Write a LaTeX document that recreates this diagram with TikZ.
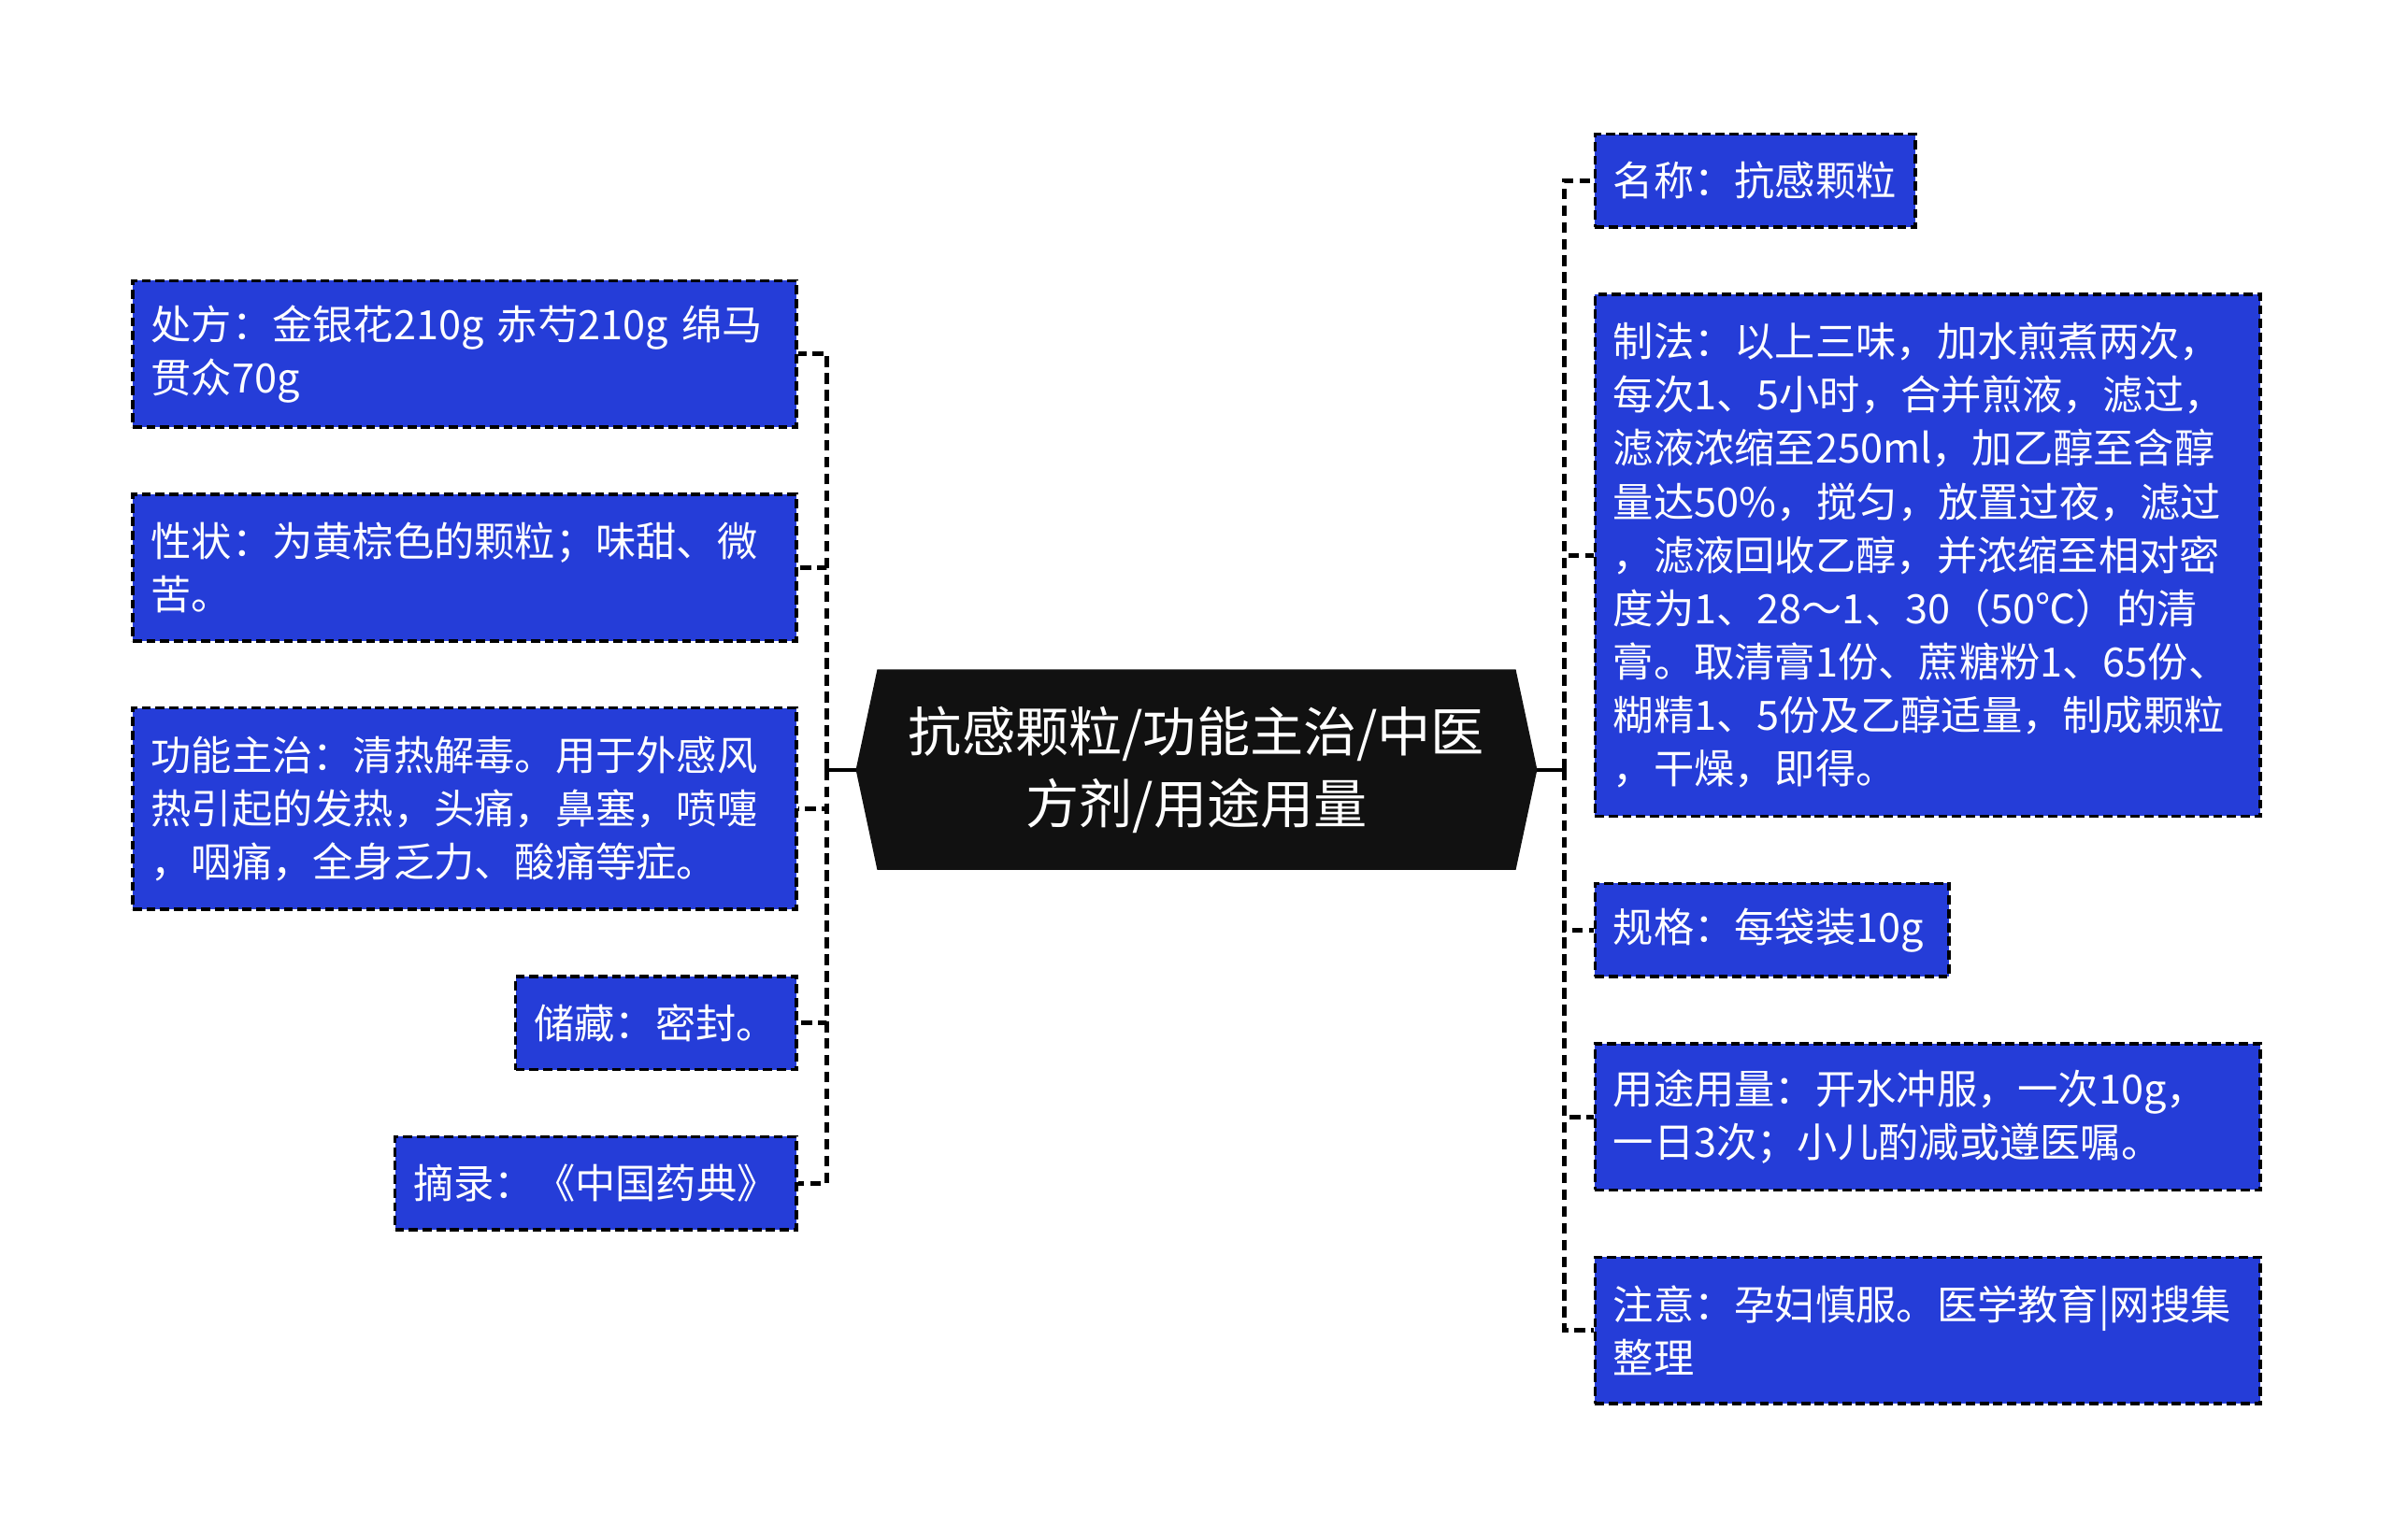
\documentclass[tikz,border=0pt]{standalone}
\usepackage{fontspec}
\setmainfont{Noto Sans CJK SC}
\usetikzlibrary{calc}
\definecolor{leafblue}{RGB}{37,61,216}
\definecolor{rootblack}{RGB}{17,17,17}
\tikzstyle{leaf} = [draw=black,fill=leafblue,text=white,line width=2.2pt,dash pattern=on 6pt off 3pt,inner xsep=12pt,inner ysep=0pt,align=left,font=\fontsize{26.5}{35}\selectfont]
\tikzstyle{rootnode} = [text=white,align=center,minimum width=418pt,minimum height=131pt,font=\fontsize{35}{47}\selectfont]
\tikzstyle{link} = [draw=black,line width=3pt,dash pattern=on 7pt off 4pt]
\tikzstyle{rootlink} = [draw=black,line width=2.4pt]
\pgfdeclarelayer{background}
\pgfsetlayers{background,main}

\begin{document}
\begin{tikzpicture}[x=1pt,y=-1pt]
\useasboundingbox (0,0) rectangle (1568,1009);

\node[rootnode] (root) at (784,504.5) {抗感颗粒/功能主治/中医\\方剂/用途用量};
\coordinate (rootW) at ($(root.west)+(-14,0)$);
\coordinate (rootE) at ($(root.east)+(14,0)$);
\coordinate (jl) at (542,504.5);
\coordinate (jr) at (1025,504.5);

% left side
\node[leaf,anchor=east,text width=411pt,minimum height=96pt]  (chufang)  at (523,232)   {处方：金银花210g 赤芍210g 绵马\\贯众70g};
\node[leaf,anchor=east,text width=411pt,minimum height=96pt]  (xingzhuang) at (523,372) {性状：为黄棕色的颗粒；味甜、微\\苦。};
\node[leaf,anchor=east,text width=411pt,minimum height=132pt] (gongneng) at (523,530)   {功能主治：清热解毒。用于外感风\\热引起的发热，头痛，鼻塞，喷嚏\\，咽痛，全身乏力、酸痛等症。};
\node[leaf,anchor=east,text width=160pt,minimum height=61pt]  (chucang)  at (523,670.5) {储藏：密封。};
\node[leaf,anchor=east,text width=239pt,minimum height=61pt]  (zhailu)   at (523,775.5) {摘录：《中国药典》};

% right side
\node[leaf,anchor=west,text width=186pt,minimum height=61pt]  (mingcheng) at (1044,118.5) {名称：抗感颗粒};
\node[leaf,anchor=west,text width=412pt,minimum height=342pt] (zhifa)     at (1044,364)   {制法：以上三味，加水煎煮两次，\\每次1、5小时，合并煎液，滤过，\\滤液浓缩至250ml，加乙醇至含醇\\量达50\%，搅匀，放置过夜，滤过\\，滤液回收乙醇，并浓缩至相对密\\度为1、28～1、30（50℃）的清\\膏。取清膏1份、蔗糖粉1、65份、\\糊精1、5份及乙醇适量，制成颗粒\\，干燥，即得。};
\node[leaf,anchor=west,text width=208pt,minimum height=61pt]  (guige)     at (1044,609.5) {规格：每袋装10g};
\node[leaf,anchor=west,text width=412pt,minimum height=96pt]  (yongtu)    at (1044,732)   {用途用量：开水冲服，一次10g，\\一日3次；小儿酌减或遵医嘱。};
\node[leaf,anchor=west,text width=412pt,minimum height=96pt]  (zhuyi)     at (1044,872)   {注意：孕妇慎服。医学教育|网搜集\\整理};

\begin{pgfonlayer}{background}
\fill[rootblack] (root.north west) -- (root.north east) -- (rootE) -- (root.south east) -- (root.south west) -- (rootW) -- cycle;
\draw[rootlink] (rootW) -- (jl);
\draw[rootlink] (rootE) -- (jr);
\foreach \n in {chufang,xingzhuang,gongneng,chucang,zhailu}
  \draw[link] (jl) |- (\n.east);
\foreach \n in {mingcheng,zhifa,guige,yongtu,zhuyi}
  \draw[link] (jr) |- (\n.west);
\end{pgfonlayer}
\end{tikzpicture}
\end{document}
